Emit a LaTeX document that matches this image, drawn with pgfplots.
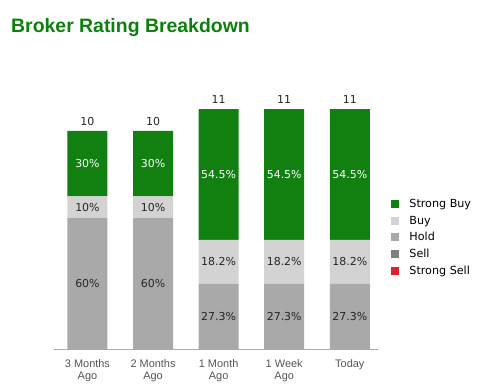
\documentclass[border=0pt]{standalone}
\usepackage{pgfplots}
\pgfplotsset{compat=1.18}
\usepackage{fontspec}
\setmainfont{DejaVu Sans}
\newfontfamily\arial{Liberation Sans}
\definecolor{sbuy}{RGB}{17,128,17}
\definecolor{buyc}{RGB}{211,211,211}
\definecolor{holdc}{RGB}{169,169,169}
\definecolor{sellc}{RGB}{128,128,128}
\definecolor{ssellc}{RGB}{224,32,40}
\definecolor{titlegreen}{RGB}{12,128,12}
\definecolor{axisgray}{RGB}{170,170,170}
\definecolor{ticktext}{RGB}{85,85,85}
\begin{document}
\begin{tikzpicture}[x=1bp,y=1bp]
\useasboundingbox (0,0) rectangle (496,391);
\node[anchor=base west, font=\arial\bfseries\fontsize{19.5}{20}\selectfont, text=titlegreen, inner sep=0] at (11,359) {Broker Rating Breakdown};
\begin{axis}[at={(54bp,42bp)}, anchor=south west, scale only axis,
  width=324bp, height=240bp, xmin=-0.51, xmax=4.43, ymin=0, ymax=11,
  ybar stacked, bar width=40bp,
  axis y line=none, axis x line=bottom,
  x axis line style={-, draw=axisgray, line width=1bp},
  xtick={0,1,2,3,4},
  xticklabels={{3 Months\\Ago},{2 Months\\Ago},{1 Month\\Ago},{1 Week\\Ago},{Today}},
  xticklabel style={align=center, font=\arial\fontsize{11}{12}\selectfont, text=ticktext, yshift=-7bp},
  major tick length=0, clip=false,
  legend style={at={(1.031,0.64)}, anchor=north west, draw=none, fill=none,
    font=\fontsize{11.2}{12}\selectfont, row sep=2.7bp},
  legend cell align=left,
  legend image code/.code={\fill[#1, draw=none] (0bp,-4bp) rectangle (8bp,4bp); \path (16bp,0bp);},
]
\addplot[fill=holdc, draw=none, forget plot] coordinates {(0,6) (1,6) (2,3) (3,3) (4,3)};
\addplot[fill=buyc, draw=none, forget plot] coordinates {(0,1) (1,1) (2,2) (3,2) (4,2)};
\addplot[fill=sbuy, draw=none, forget plot] coordinates {(0,3) (1,3) (2,6) (3,6) (4,6)};
\addlegendimage{fill=sbuy}
\addlegendentry{Strong Buy}
\addlegendimage{fill=buyc}
\addlegendentry{Buy}
\addlegendimage{fill=holdc}
\addlegendentry{Hold}
\addlegendimage{fill=sellc}
\addlegendentry{Sell}
\addlegendimage{fill=ssellc}
\addlegendentry{Strong Sell}
\end{axis}
\begin{axis}[at={(54bp,42bp)}, anchor=south west, scale only axis,
  width=324bp, height=240bp, xmin=-0.51, xmax=4.43, ymin=0, ymax=11,
  hide axis, clip=false,
  point meta=explicit symbolic,
  every node near coord/.append style={font=\fontsize{11}{12}\selectfont},
]
\addplot[draw=none, mark=none, nodes near coords,
  every node near coord/.append style={anchor=center, text=white}]
  coordinates {(0,8.5) [30\%] (1,8.5) [30\%] (2,8) [54.5\%] (3,8) [54.5\%] (4,8) [54.5\%]};
\addplot[draw=none, mark=none, nodes near coords,
  every node near coord/.append style={anchor=center, text=black!85}]
  coordinates {(0,6.5) [10\%] (1,6.5) [10\%] (2,4) [18.2\%] (3,4) [18.2\%] (4,4) [18.2\%]};
\addplot[draw=none, mark=none, nodes near coords,
  every node near coord/.append style={anchor=center, text=black!85}]
  coordinates {(0,3) [60\%] (1,3) [60\%] (2,1.5) [27.3\%] (3,1.5) [27.3\%] (4,1.5) [27.3\%]};
\addplot[draw=none, mark=none, nodes near coords,
  every node near coord/.append style={anchor=south, text=black!85, yshift=1.5bp}]
  coordinates {(0,10) [10] (1,10) [10] (2,11) [11] (3,11) [11] (4,11) [11]};
\end{axis}
\end{tikzpicture}
\end{document}
